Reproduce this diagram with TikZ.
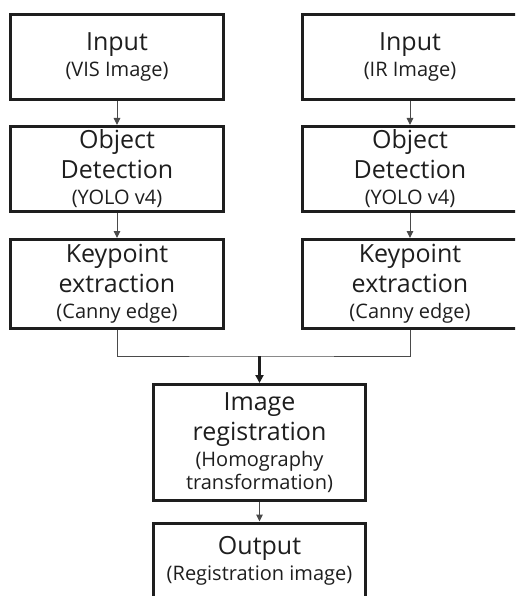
\documentclass[tikz,border=0pt]{standalone}
\usepackage{fontspec}
\setmainfont{Open Sans}
\usetikzlibrary{arrows.meta}
\definecolor{ink}{HTML}{1E1E1E}
\definecolor{wire}{HTML}{4A4A4A}
\newcommand{\subsz}{\fontsize{20}{24}\selectfont}
\tikzset{
  stage/.style={draw=ink, line width=3pt, rectangle, inner sep=0pt,
    minimum width=213pt, align=center, text=ink,
    font=\fontsize{25}{30}\selectfont},
  feed/.style={draw=wire, line width=1pt, -{Triangle[length=7pt,width=6.5pt]}},
  merge/.style={draw=wire, line width=1pt},
  mergearrow/.style={draw=ink, line width=2.2pt, -{Triangle[length=8pt,width=8pt]}}
}
\begin{document}
\begin{tikzpicture}[x=1pt,y=-1pt]
\useasboundingbox (0,0) rectangle (515,596);
\clip (0,0) rectangle (515,596);

% visible-light branch
\node[stage, minimum height=85pt] (inL) at (117,57) {Input\\[-4pt]{\subsz (VIS Image)}};
\node[stage, minimum height=85pt] (odL) at (117,169) {Object\\Detection\\[-4pt]{\subsz (YOLO v4)}};
\node[stage, minimum height=89pt] (kpL) at (117,284) {Keypoint\\extraction\\[-4pt]{\subsz (Canny edge)}};

% infrared branch
\node[stage, minimum height=85pt, minimum width=215pt] (inR) at (410,57) {Input\\[-4pt]{\subsz (IR Image)}};
\node[stage, minimum height=85pt, minimum width=215pt] (odR) at (410,169) {Object\\Detection\\[-4pt]{\subsz (YOLO v4)}};
\node[stage, minimum height=89pt, minimum width=215pt] (kpR) at (410,284) {Keypoint\\extraction\\[-4pt]{\subsz (Canny edge)}};

% fused stages
\node[stage, minimum height=116pt, minimum width=212pt] (reg) at (259.5,442.5)
  {Image\\registration\\[-4pt]{\subsz (Homography}\\[-7pt]{\subsz transformation)}};
\node[stage, minimum height=76pt, minimum width=212pt] (out) at (259.5,561)
  {Output\\[-4pt]{\subsz (Registration image)}};

\coordinate (join) at (259.5,356);

\draw[feed] (inL) -- (odL);
\draw[feed] (odL) -- (kpL);
\draw[feed] (inR) -- (odR);
\draw[feed] (odR) -- (kpR);
\draw[merge] (kpL.south) |- (join) -| (kpR.south);
\draw[mergearrow] (join) -- (reg.north);
\draw[feed] (reg) -- (out);
\end{tikzpicture}
\end{document}
